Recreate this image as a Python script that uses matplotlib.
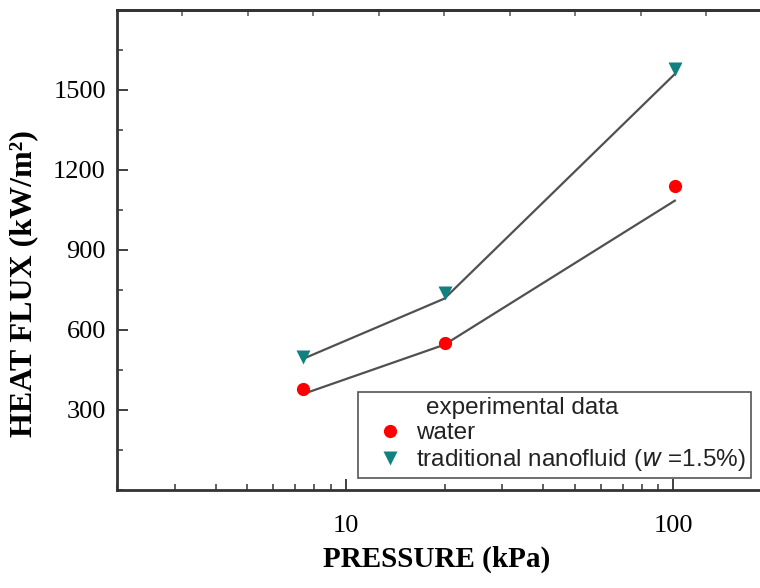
import numpy as np
import matplotlib
matplotlib.use("Agg")
import matplotlib.pyplot as plt
from matplotlib.lines import Line2D
from matplotlib.ticker import MultipleLocator, LogLocator, NullFormatter, FixedLocator

# measured points
pressure = [7.4, 20, 101]
water = [380, 550, 1140]
nanofluid = [500, 740, 1580]

# fitted lines drawn through the points
water_fit = [360, 545, 1085]
nano_fit = [492, 718, 1560]

serif = ["Liberation Serif", "DejaVu Serif"]
sans = ["Liberation Sans", "DejaVu Sans"]

fig = plt.figure(figsize=(7.6, 5.88), dpi=100)
ax = fig.add_axes([117 / 760, 98 / 588, 655 / 760, 480 / 588])

line_col = "#505050"
ax.plot(pressure, water_fit, color=line_col, lw=1.6, zorder=2)
ax.plot(pressure, nano_fit, color=line_col, lw=1.6, zorder=2)
ax.plot(pressure, water, "o", color="#ff0000", ms=9.5, mec="none", zorder=3)
ax.plot(pressure, nanofluid, "v", color="#138080", ms=10.5, mec="none", zorder=3)

ax.set_xscale("log")
ax.set_xlim(2, 200)
ax.set_ylim(0, 1800)

ax.set_xticks([10, 100])
ax.set_xticklabels(["10", "100"])
ax.xaxis.set_minor_locator(LogLocator(base=10, subs=np.arange(2, 10)))
ax.xaxis.set_minor_formatter(NullFormatter())
ax.set_yticks([300, 600, 900, 1200, 1500])
ax.yaxis.set_minor_locator(MultipleLocator(150))

ax.tick_params(axis="both", which="major", direction="in", length=8, width=1.3,
               colors="#333333", labelcolor="black", labelsize=19, pad=8)
ax.tick_params(axis="both", which="minor", direction="in", length=4, width=1.1,
               colors="#333333")
ax.tick_params(axis="x", which="major", pad=18)
ax.tick_params(top=False, right=False, which="both")
for lab in ax.get_xticklabels() + ax.get_yticklabels():
    lab.set_family(serif)

# top axis carries its own evenly spaced ticks
top = ax.secondary_xaxis("top")
top.xaxis.set_major_locator(FixedLocator(10 ** np.arange(0.5, 2.31, 0.2)))
top.xaxis.set_minor_locator(FixedLocator([]))
top.tick_params(direction="in", length=4, width=1.1, colors="#555555", labelsize=0)
top.set_xticklabels([])
top.spines["top"].set_linewidth(2)
top.spines["top"].set_color("#333333")

for s in ax.spines.values():
    s.set_linewidth(2)
    s.set_color("#333333")

ax.set_xlabel("PRESSURE (kPa)", family=serif, fontweight="bold", fontsize=21)
ax.set_ylabel("HEAT FLUX (kW/m²)", family=serif, fontweight="bold", fontsize=23)
ax.xaxis.set_label_coords(0.488, -0.115)
ax.yaxis.set_label_coords(-0.12, 0.43)

handles = [
    Line2D([], [], linestyle="none", marker=None),
    Line2D([], [], linestyle="none", marker="o", color="#ff0000", ms=9.5, mec="none"),
    Line2D([], [], linestyle="none", marker="v", color="#138080", ms=10.5, mec="none"),
]
labels = ["experimental data", "water", "traditional nanofluid ($w$ =1.5%)"]
leg = ax.legend(handles, labels, loc="lower left", bbox_to_anchor=(0.368, 0.025),
                frameon=True, fancybox=False, edgecolor="#555555", framealpha=1,
                prop={"family": sans, "size": 17.5}, handlelength=2.2,
                handletextpad=0.0, borderpad=0.2, labelspacing=0.12,
                borderaxespad=0)
leg.get_frame().set_linewidth(1.2)
for t in leg.get_texts():
    t.set_color("#222222")
leg.get_texts()[0].set_x(10)

fig.savefig("out.png", dpi=100)
